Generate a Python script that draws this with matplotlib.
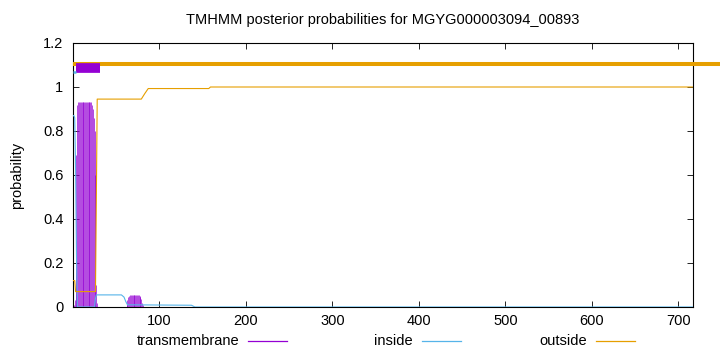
import matplotlib

matplotlib.use("Agg")
import matplotlib.pyplot as plt
from matplotlib.lines import Line2D

plt.rcParams["font.family"] = ["Liberation Sans", "DejaVu Sans"]

TITLE = "TMHMM posterior probabilities for MGYG000003094_00893"
SEQ_LEN = 717

# transmembrane posterior, drawn as impulses (residue, probability)
tm_x = list(range(1, 29)) + list(range(62, 82))
tm_y = [
    0.01, 0.03, 0.30, 0.69, 0.92,
    0.93, 0.93, 0.93, 0.93, 0.93, 0.93, 0.93, 0.93,
    0.93, 0.93, 0.93, 0.93, 0.93, 0.93, 0.93, 0.93,
    0.92, 0.90, 0.86, 0.80, 0.60, 0.10, 0.02,
    0.010, 0.030, 0.045, 0.052, 0.055, 0.055, 0.055, 0.055, 0.055, 0.055,
    0.055, 0.055, 0.055, 0.055, 0.053, 0.050, 0.045, 0.035, 0.020, 0.008,
]

# inside / outside posterior, read at the points where the curves bend
inside_x = [0, 1, 2, 3, 4, 5, 25, 26, 27, 56, 59, 61, 63, 137, 141, SEQ_LEN]
inside_y = [0.87, 0.87, 0.86, 0.63, 0.24, 0.0, 0.0, 0.04, 0.055, 0.055, 0.045, 0.025, 0.01, 0.008, 0.0, 0.0]

outside_x = [0, 2, 3, 26, 27, 28, 79, 83, 87, 157, 159, SEQ_LEN]
outside_y = [0.12, 0.12, 0.07, 0.07, 0.50, 0.945, 0.945, 0.97, 0.993, 0.993, 1.0, 1.0]

# predicted topology bars drawn above the curves (start, end, level)
top_inside = ([0, 4], 1.067)
top_tm = ([4, 31], 1.085)
top_outside = ([0, 760], 1.106)

PURPLE = "#9400d3"
BLUE = "#56b4e9"
ORANGE = "#e69f00"

fig = plt.figure(figsize=(7.2, 3.52), dpi=100)
ax = fig.add_axes([73 / 720, 45 / 352, 620 / 720, 264 / 352])

ax.vlines(tm_x, 0, tm_y, color=PURPLE, linewidth=0.5, zorder=2)
ax.plot(inside_x, inside_y, color=BLUE, linewidth=0.8, zorder=3)
ax.plot(outside_x, outside_y, color=ORANGE, linewidth=0.8, zorder=3)

ax.plot(top_outside[0], [top_outside[1]] * 2, color=ORANGE, linewidth=2.9,
        solid_capstyle="butt", clip_on=False, zorder=4)
ax.plot(top_tm[0], [top_tm[1]] * 2, color=PURPLE, linewidth=7.0,
        solid_capstyle="butt", zorder=5)
ax.plot(top_inside[0], [top_inside[1]] * 2, color=BLUE, linewidth=1.8,
        solid_capstyle="butt", zorder=5)

ax.set_xlim(0, SEQ_LEN)
ax.set_ylim(0, 1.2)
ax.set_xticks([100, 200, 300, 400, 500, 600, 700])
ax.set_yticks([0, 0.2, 0.4, 0.6, 0.8, 1.0, 1.2])
ax.set_yticklabels(["0", "0.2", "0.4", "0.6", "0.8", "1", "1.2"])
ax.tick_params(direction="in", top=True, right=True, length=4, width=0.6,
               labelsize=10.5, colors="black")
ax.tick_params(axis="x", pad=5)
ax.tick_params(axis="y", pad=7)
for spine in ax.spines.values():
    spine.set_linewidth(0.8)

fig.text(383 / 720, 1 - 20 / 352, TITLE, ha="center", va="center", fontsize=10.5)
fig.text(17 / 720, 1 - 175 / 352, "probability", rotation=90, ha="center",
         va="center", fontsize=10.5)

# legend row under the axis
legend_items = [("transmembrane", PURPLE, 239), ("inside", BLUE, 413), ("outside", ORANGE, 587)]
legend_y = 1 - 341 / 352
for label, color, text_end in legend_items:
    fig.text(text_end / 720, legend_y, label, ha="right", va="center", fontsize=10.5)
    start = (text_end + 9) / 720
    fig.add_artist(Line2D([start, start + 39 / 720], [legend_y, legend_y],
                          color=color, linewidth=0.9, transform=fig.transFigure))

fig.savefig("out.png", dpi=100)
plt.close(fig)
